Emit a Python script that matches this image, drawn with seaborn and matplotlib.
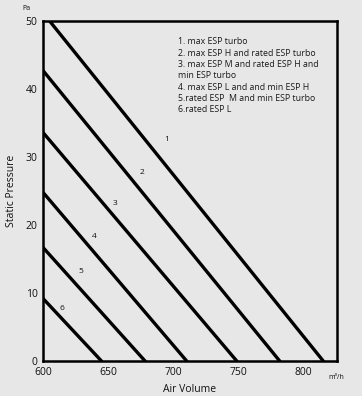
import pandas as pd
import numpy as np
import matplotlib
matplotlib.use('Agg')
import matplotlib.pyplot as plt
import seaborn as sns

### ------------------- data ----------------------
curve_ids = ['1', '2', '3', '4', '5', '6']
# each curve: start (air volume, pressure) and end where it hits 0 Pa
x_start = [605, 600, 600, 600, 600, 600]
y_start = [50, 42.7, 33.6, 24.8, 16.7, 9.2]
x_end = [815.5, 782, 749, 710.5, 678.5, 645]
y_end = [0, 0, 0, 0, 0, 0]
# curve number label positions
label_x = [695, 676, 655.5, 639, 629, 614.5]
label_y = [32.6, 27.8, 23.2, 18.3, 13.2, 7.8]

legend_lines = ['1. max ESP turbo',
                '2. max ESP H and rated ESP turbo',
                '3. max ESP M and rated ESP H and',
                'min ESP turbo',
                '4. max ESP L and and min ESP H',
                '5.rated ESP  M and min ESP turbo',
                '6.rated ESP L']

x_ticks = [600, 650, 700, 750, 800]
y_ticks = [0, 10, 20, 30, 40, 50]

rows = []
for i, c in enumerate(curve_ids):
    rows.append({'curve': c, 'air': x_start[i], 'pa': y_start[i]})
    rows.append({'curve': c, 'air': x_end[i], 'pa': y_end[i]})
df = pd.DataFrame(rows)

### ------------------- plot ----------------------
sns.set_style('white')
plt.rcParams['font.family'] = ['Open Sans', 'DejaVu Sans']
bg = '#e7e7e7'
ink = '#111111'

fig = plt.figure(figsize=(3.62, 3.96), dpi=100, facecolor=bg)
ax = fig.add_axes([0.119, 0.088, 0.812, 0.859])
ax.set_facecolor(bg)

sns.lineplot(data=df, x='air', y='pa', units='curve', estimator=None,
             color='black', linewidth=2.4, ax=ax, legend=False)

for i, c in enumerate(curve_ids):
    ax.text(label_x[i], label_y[i], c, fontsize=6, ha='center', va='center', color=ink)

ax.text(0.458, 0.952, '\n'.join(legend_lines), transform=ax.transAxes,
        fontsize=6.3, va='top', ha='left', linespacing=1.33, color='#1a1a1a')

ax.set_xlim(600, 826)
ax.set_ylim(0, 50)
ax.set_xticks(x_ticks)
ax.set_yticks(y_ticks)
ax.tick_params(length=0, labelsize=7.5, labelcolor=ink)
ax.tick_params(axis='x', pad=4.5)
ax.tick_params(axis='y', pad=4)
ax.set_xlabel('Air Volume', fontsize=7.5, labelpad=4, color=ink)
ax.set_ylabel('Static Pressure', fontsize=7.5, labelpad=6, color=ink)
for s in ax.spines.values():
    s.set_color('black')
    s.set_linewidth(1.8)

fig.text(0.072, 0.978, 'Pa', fontsize=5, ha='center', va='center', color=ink)
fig.text(0.93, 0.046, 'm\u00b3/h', fontsize=5, ha='center', va='center', color=ink)

fig.savefig('out.png', dpi=100, facecolor=bg)
